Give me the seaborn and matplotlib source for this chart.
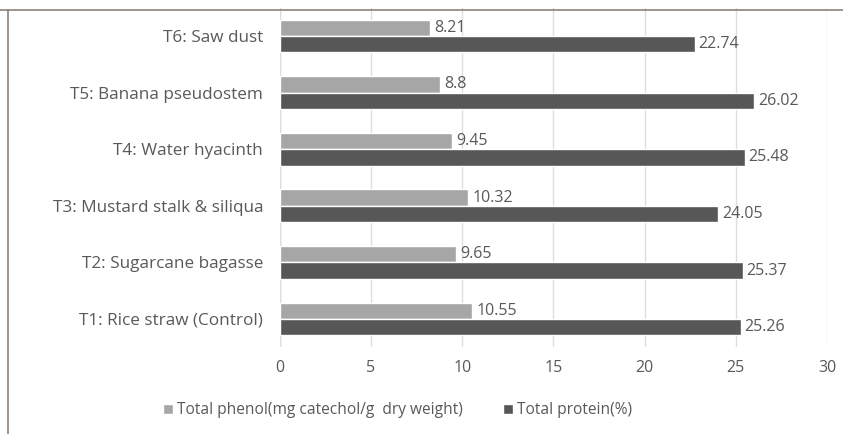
import pandas as pd
import seaborn as sns
from matplotlib import pyplot as plt
from matplotlib.lines import Line2D

treatments = ["T6: Saw dust", "T5: Banana pseudostem", "T4: Water hyacinth",
              "T3: Mustard stalk & siliqua", "T2: Sugarcane bagasse",
              "T1: Rice straw (Control)"]
phenol = [8.21, 8.8, 9.45, 10.32, 9.65, 10.55]
protein = [22.74, 26.02, 25.48, 24.05, 25.37, 25.26]
series = ["Total phenol(mg catechol/g  dry weight)", "Total protein(%)"]
colors = ["#a6a6a6", "#575757"]

df = pd.DataFrame({
    "Treatment": treatments * 2,
    "Value": phenol + protein,
    "Series": [series[0]] * len(treatments) + [series[1]] * len(treatments),
})

sns.set_style("white")
plt.rcParams["font.family"] = ["Open Sans", "DejaVu Sans"]

fig = plt.figure(figsize=(8.43, 4.34), dpi=100)
ax = fig.add_axes([0.332, 0.2, 0.649, 0.782])
sns.barplot(data=df, y="Treatment", x="Value", hue="Series", hue_order=series,
            order=treatments, palette=colors, width=0.58, orient="h",
            ax=ax, saturation=1, errorbar=None)

for cont in ax.containers:
    ax.bar_label(cont, labels=["{:g}".format(v) for v in cont.datavalues],
                 padding=3, fontsize=11.5, color="#595959")

ax.set_xlim(0, 30)
ax.set_xticks(range(0, 31, 5))
ax.grid(axis="x", color="#dedede", linewidth=1)
ax.set_axisbelow(True)
for s in ax.spines.values():
    s.set_visible(False)
ax.axvline(0, color="#d0d0d0", linewidth=1, zorder=0)
ax.set_xlabel("")
ax.set_ylabel("")
ax.tick_params(axis="x", labelsize=11.5, colors="#595959", pad=9, length=0)
ax.tick_params(axis="y", labelsize=12.3, colors="#595959", pad=12, length=0)

handles, labels = ax.get_legend_handles_labels()
ax.get_legend().remove()
fig.legend(handles, labels, loc="center", bbox_to_anchor=(0.472, 0.055), ncol=2,
           frameon=False, fontsize=11.2, labelcolor="#595959", handlelength=0.6,
           handleheight=0.6, handletextpad=0.3, columnspacing=2.6)

fig.add_artist(Line2D([0, 1], [1 - 10 / 434, 1 - 10 / 434], color="#8c817a", linewidth=1.2))
fig.add_artist(Line2D([8 / 843, 8 / 843], [0, 1 - 10 / 434], color="#8c817a", linewidth=1.2))

fig.savefig("out.png", dpi=100)
